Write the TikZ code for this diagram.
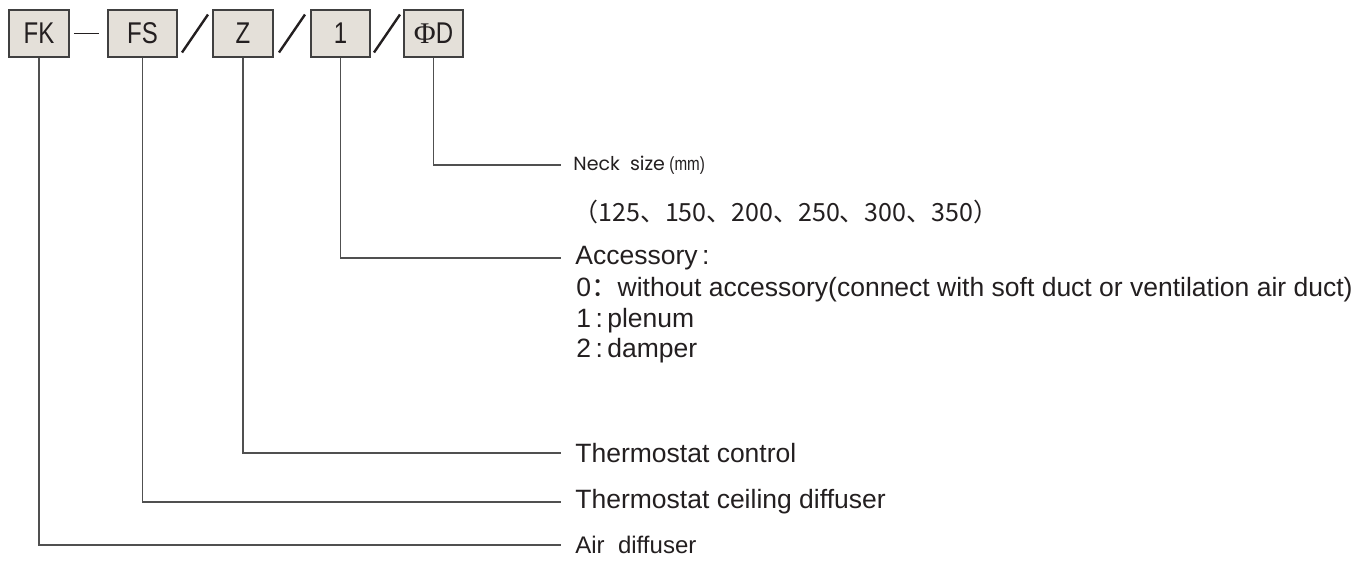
\documentclass[tikz,border=0pt]{standalone}
\usepackage{fontspec}
\usetikzlibrary{calc}
\setmainfont{Liberation Sans}
\newfontfamily\cjkfont{Noto Sans CJK SC}
\newfontfamily\boxfont[FakeStretch=0.8]{Liberation Sans}
\newfontfamily\neckfont{Poppins}
\newfontfamily\phifont{Liberation Serif}
\definecolor{boxfill}{RGB}{228,224,217}
\definecolor{ink}{RGB}{35,31,32}
\definecolor{leadgray}{RGB}{80,80,80}
\tikzset{
  codebox/.style={draw=black!75, line width=0.75pt, fill=boxfill, minimum height=23.5pt, inner sep=0pt, text=ink, font=\boxfont\fontsize{15}{15}\selectfont},
  lead/.style={draw=leadgray, line width=0.6pt},
  slash/.style={draw=ink, line width=1.2pt},
  desc/.style={anchor=west, inner xsep=7pt, inner ysep=0pt, text=ink, font=\fontsize{13.25}{15}\selectfont},
  note/.style={anchor=west, inner sep=0pt, text=ink, font=\fontsize{13.25}{15}\selectfont}
}
\begin{document}
\begin{tikzpicture}[x=0.5pt, y=-0.5pt]
\useasboundingbox (0,0) rectangle (1361,564);
\node[codebox, minimum width=30pt] (FK) at (39,33.5) {FK};
\node[codebox, minimum width=34.5pt] (FS) at (142.5,33.5) {FS};
\node[codebox, minimum width=30pt] (Z) at (243,33.5) {Z};
\node[codebox, minimum width=29.5pt] (N1) at (340.5,33.5) {1};
\node[codebox, minimum width=29.5pt] (PhiD) at (433.5,33.5) {{\phifont Φ}D};
\draw[lead, draw=ink] ([xshift=2pt]FK.east) -- ([xshift=-4pt]FS.west);
\foreach \a/\b in {FS/Z, Z/N1, N1/PhiD}
  \draw[slash] ($(\a.east)!0.5!(\b.west)$) +(-13,19) -- +(13,-19);
\node[desc, inner xsep=6pt] (neck) at (561,165) {{\neckfont\fontsize{9.5}{12}\selectfont Neck\ \ size}\,{\boxfont\fontsize{9.5}{12}\selectfont(mm)}};
\node[note, font=\cjkfont\fontsize{12.5}{14}\selectfont] (sizes) at (573,212) {（125、150、200、250、300、350）};
\node[desc] (acs) at (561,258) {Accessory\,:};
\node[note] (opt0) at (576,290) {0{\cjkfont ：}without accessory(connect with soft duct or ventilation air duct)};
\node[note] (opt1) at (576,321) {1\,:\,plenum};
\node[note] (opt2) at (576,351) {2\,:\,damper};
\node[desc] (ctrl) at (561,453) {Thermostat control};
\node[desc] (ceil) at (561,502) {Thermostat ceiling diffuser};
\node[desc, font=\fontsize{12}{14}\selectfont] (air) at (561,545) {Air\ \ diffuser};
\foreach \b/\t in {PhiD/neck, N1/acs, Z/ctrl, FS/ceil, FK/air}
  \draw[lead] (\b.south) |- (\t.west);
\end{tikzpicture}
\end{document}
